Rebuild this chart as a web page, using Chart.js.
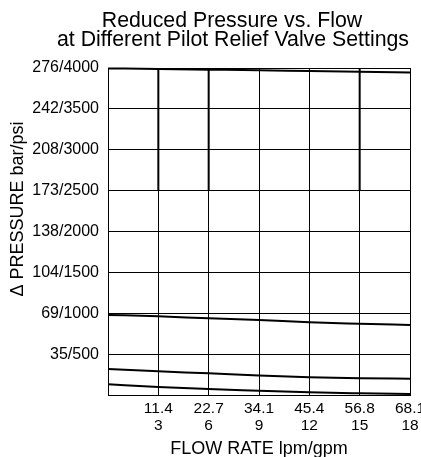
<!DOCTYPE html>
<html>
<head>
<meta charset="utf-8">
<script src="https://cdn.jsdelivr.net/npm/chart.js@4"></script>
<style>
  html, body { margin: 0; padding: 0; background: #fff; }
  #wrap { width: 421px; height: 457px; }
</style>
</head>
<body>
<div id="wrap"><canvas id="chart" width="421" height="457"></canvas></div>
<script>
// flow axis: gpm values, lpm equivalents shown above
var flowGpm      = [0, 3, 6, 9, 12, 15, 18];
var flowLpmLabel = ['', '11.4', '22.7', '34.1', '45.4', '56.8', '68.1'];
var flowGpmLabel = ['', '3', '6', '9', '12', '15', '18'];

// pressure axis: psi values, bar/psi labels
var pressurePsi   = [0, 500, 1000, 1500, 2000, 2500, 3000, 3500, 4000];
var pressureLabel = ['', '35/500', '69/1000', '104/1500', '138/2000', '173/2500', '208/3000', '242/3500', '276/4000'];

// reduced pressure (psi) for each pilot relief setting
var setting4000 = [3995, 3988, 3980, 3972, 3962, 3953, 3945];
var setting1000 = [980, 962, 938, 917, 890, 872, 856];
var setting300  = [318, 290, 265, 238, 216, 204, 200];
var setting130  = [131, 98, 73, 53, 33, 21, 12];

// heavier grid segments seen in the upper part of the plot
var heavyGridGpm = [3, 6, 15];
var heavyGridFrom = 2500;
var heavyGridTo = 4000;

var titleLines = ['Reduced Pressure vs. Flow', 'at Different Pilot Relief Valve Settings'];
var yTitle = '\u0394 PRESSURE bar/psi';
var xTitle = 'FLOW RATE lpm/gpm';

var FONT = '"Liberation Sans", Arial, sans-serif';

function toPoints(values) {
    return flowGpm.map(function (g, i) { return { x: g, y: values[i] }; });
}

function curve(values) {
    return {
        data: toPoints(values),
        borderColor: '#000',
        borderWidth: 2,
        pointRadius: 0,
        fill: false,
        cubicInterpolationMode: 'monotone',
        clip: false
    };
}

var datasets = [curve(setting4000), curve(setting1000), curve(setting300), curve(setting130)];
heavyGridGpm.forEach(function (g) {
    datasets.push({
        data: [{ x: g, y: heavyGridFrom }, { x: g, y: heavyGridTo }],
        borderColor: '#000',
        borderWidth: 2,
        pointRadius: 0,
        fill: false
    });
});

var textPlugin = {
    id: 'texts',
    afterDraw: function (chart) {
        var ctx = chart.ctx;
        ctx.save();
        ctx.fillStyle = '#000';
        ctx.textAlign = 'center';
        ctx.textBaseline = 'alphabetic';
        ctx.font = '21.3px ' + FONT;
        ctx.fillText(titleLines[0], 232, 27);
        ctx.fillText(titleLines[1], 233, 46);
        ctx.font = '18px ' + FONT;
        ctx.translate(23, 209);
        ctx.rotate(-Math.PI / 2);
        ctx.fillText(yTitle, 0, 0);
        ctx.restore();
    }
};

new Chart(document.getElementById('chart'), {
    type: 'line',
    data: { datasets: datasets },
    plugins: [textPlugin],
    options: {
        responsive: false,
        animation: false,
        events: [],
        layout: { padding: { top: 68, right: 11, left: 0, bottom: 0 } },
        plugins: { legend: { display: false }, tooltip: { enabled: false }, title: { display: false } },
        scales: {
            x: {
                type: 'linear',
                min: flowGpm[0],
                max: flowGpm[flowGpm.length - 1],
                afterBuildTicks: function (scale) {
                    scale.ticks = flowGpm.map(function (v) { return { value: v }; });
                },
                afterFit: function (scale) {
                    scale.height = 62;
                    scale.paddingLeft = 0;
                    scale.paddingRight = 11;
                },
                grid: { color: '#000', lineWidth: 1, drawTicks: false },
                border: { color: '#000', width: 1 },
                ticks: {
                    color: '#000',
                    padding: 6,
                    maxRotation: 0,
                    autoSkip: false,
                    font: { family: FONT, size: 15.5, lineHeight: 1.05 },
                    callback: function (v) {
                        var i = flowGpm.indexOf(v);
                        if (i <= 0) return '';
                        return [flowLpmLabel[i], flowGpmLabel[i]];
                    }
                },
                title: {
                    display: true,
                    text: xTitle,
                    color: '#000',
                    font: { family: FONT, size: 18, lineHeight: 1 },
                    padding: { top: 0, bottom: -1 }
                }
            },
            y: {
                type: 'linear',
                min: pressurePsi[0],
                max: pressurePsi[pressurePsi.length - 1],
                afterBuildTicks: function (scale) {
                    scale.ticks = pressurePsi.map(function (v) { return { value: v }; });
                },
                afterFit: function (scale) {
                    scale.width = 108;
                },
                grid: { color: '#000', lineWidth: 1, drawTicks: false },
                border: { color: '#000', width: 1 },
                ticks: {
                    color: '#000',
                    padding: 9,
                    autoSkip: false,
                    font: { family: FONT, size: 16 },
                    callback: function (v) {
                        var i = pressurePsi.indexOf(v);
                        return i < 0 ? '' : pressureLabel[i];
                    }
                }
            }
        }
    }
});
</script>
</body>
</html>
